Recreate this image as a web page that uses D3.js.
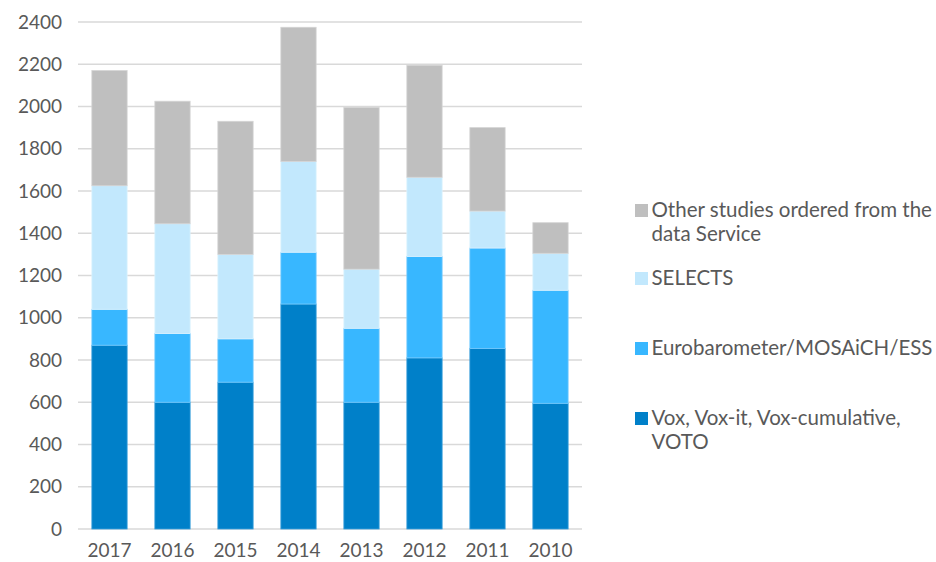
<!DOCTYPE html>
<html>
<head>
<meta charset="utf-8">
<script src="https://cdn.jsdelivr.net/npm/d3@7"></script>
<style>
  body { margin: 0; background: #fff; }
  text { font-family: Lato, "Open Sans", sans-serif; fill: #595959; }
</style>
</head>
<body>
<svg id="chart" width="936" height="562"></svg>
<script>
// Study orders per year, stacked by source
const years = ["2017", "2016", "2015", "2014", "2013", "2012", "2011", "2010"];
const vox = [870, 600, 695, 1065, 600, 810, 855, 595];
const eurobarometer = [170, 325, 205, 245, 350, 480, 475, 535];
const selects = [585, 520, 400, 430, 280, 375, 175, 175];
const other = [545, 580, 630, 635, 765, 530, 395, 145];
const seriesNames = [
  "Vox, Vox-it, Vox-cumulative, VOTO",
  "Eurobarometer/MOSAiCH/ESS",
  "SELECTS",
  "Other studies ordered from the data Service"
];
const yTicks = [0, 200, 400, 600, 800, 1000, 1200, 1400, 1600, 1800, 2000, 2200, 2400];

const colors = ["#0080C9", "#38B7FF", "#C2E8FD", "#BFBFBF"];
const strokes = ["#3A9FDB", "#7ACDFF", "#DDF2FE", "#D4D4D4"];

const rows = years.map((yr, i) => ({
  year: yr, s0: vox[i], s1: eurobarometer[i], s2: selects[i], s3: other[i]
}));
const keys = ["s0", "s1", "s2", "s3"];
const stacked = d3.stack().keys(keys)(rows);

const svg = d3.select("#chart");
const plotLeft = 78, plotRight = 582, plotTop = 22, plotBottom = 529;

const x = d3.scaleBand().domain(years).range([plotLeft, plotRight]).paddingInner(0.44).paddingOuter(0.22);
const y = d3.scaleLinear().domain([0, 2400]).range([plotBottom, plotTop]);

// gridlines
svg.append("g").selectAll("line").data(yTicks).join("line")
  .attr("x1", plotLeft).attr("x2", plotRight)
  .attr("y1", d => y(d)).attr("y2", d => y(d))
  .attr("stroke", "#D9D9D9").attr("stroke-width", 1.5);

// y axis labels
const yAxis = d3.axisLeft(y).tickValues(yTicks).tickSize(0).tickPadding(16).tickFormat(d3.format("d"));
const gy = svg.append("g").attr("transform", `translate(${plotLeft},0)`).call(yAxis);
gy.select(".domain").remove();
gy.selectAll("text").style("font-size", "19px").style("font-family", "Lato, sans-serif").attr("fill", "#595959");

// x axis labels
const xAxis = d3.axisBottom(x).tickSize(0).tickPadding(15);
const gx = svg.append("g").attr("transform", `translate(0,${plotBottom})`).call(xAxis);
gx.select(".domain").remove();
gx.selectAll("text").style("font-size", "19px").style("font-family", "Lato, sans-serif").attr("fill", "#595959");

// stacked bars
svg.append("g").selectAll("g").data(stacked).join("g")
  .attr("fill", (d, i) => colors[i])
  .attr("stroke", (d, i) => strokes[i])
  .attr("stroke-width", 0.8)
  .selectAll("rect").data(d => d).join("rect")
  .attr("x", d => x(d.data.year))
  .attr("width", x.bandwidth())
  .attr("y", d => y(d[1]))
  .attr("height", d => y(d[0]) - y(d[1]));

// legend (top to bottom: Other, SELECTS, Eurobarometer, Vox)
const legendItems = [
  { idx: 3, lines: ["Other studies ordered from the", "data Service"], sqY: 204 },
  { idx: 2, lines: ["SELECTS"], sqY: 272 },
  { idx: 1, lines: ["Eurobarometer/MOSAiCH/ESS"], sqY: 342 },
  { idx: 0, lines: ["Vox, Vox-it, Vox-cumulative,", "VOTO"], sqY: 412 }
];
const lg = svg.append("g");
legendItems.forEach(item => {
  lg.append("rect").attr("x", 635).attr("y", item.sqY).attr("width", 13).attr("height", 13)
    .attr("fill", colors[item.idx]);
  const t = lg.append("text").attr("x", 651.5).attr("y", item.sqY + 12.5).style("font-size", "20.5px");
  item.lines.forEach((ln, j) => {
    t.append("tspan").attr("x", 651.5).attr("dy", j === 0 ? 0 : 24).text(ln);
  });
});
</script>
</body>
</html>
